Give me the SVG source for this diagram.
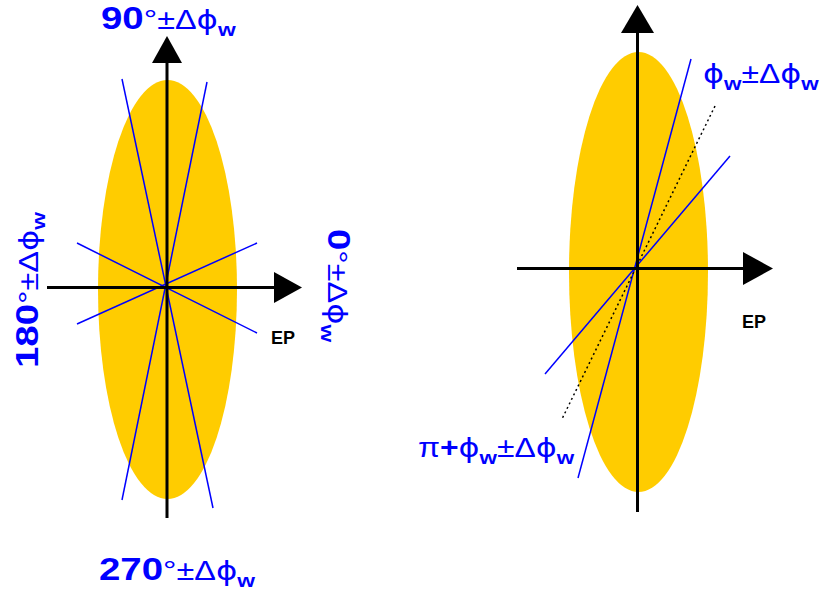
<svg xmlns="http://www.w3.org/2000/svg" width="823" height="595" viewBox="0 0 823 595">
<style>
.el{fill:#FFCC00}
.ax{stroke:#000;stroke-width:3;fill:none}
.ah{fill:#000}
.bl{stroke:#0000FF;stroke-width:1.5;fill:none}
.dt{stroke:#000;stroke-width:1.5;stroke-dasharray:2,3;fill:none}
.lbl{font-family:"Liberation Sans",Arial,sans-serif;fill:#0000FF}
.big{font-size:32px;font-weight:bold}
.deg{font-size:28px;font-weight:normal}
.sym{font-size:27px;font-weight:normal}
.phi{font-size:27px;font-weight:normal;font-family:"DejaVu Sans",sans-serif}
.sub{font-size:19px;font-weight:bold}
.ep{font-family:"Liberation Sans",Arial,sans-serif;font-size:18px;font-weight:bold;fill:#000}
</style>
<g id="left-ellipse"><ellipse class="el" cx="167.5" cy="289.5" rx="69.5" ry="209.5"/></g>
<g id="right-ellipse"><ellipse class="el" cx="638.5" cy="272" rx="69.5" ry="220"/></g>
<g id="connectors">
<line class="bl" x1="122" y1="79" x2="213" y2="508"/>
<line class="bl" x1="207" y1="82" x2="122" y2="500"/>
<line class="bl" x1="77" y1="243" x2="257" y2="333"/>
<line class="bl" x1="77" y1="324" x2="257" y2="243"/>
<line class="ax" x1="167" y1="60" x2="167" y2="518"/>
<polygon class="ah" points="152,63 182,63 167,36"/>
<line class="ax" x1="47" y1="287.5" x2="276" y2="287.5"/>
<polygon class="ah" points="274,272 274,303 302,287.5"/>
<line class="bl" x1="691" y1="59" x2="578" y2="478"/>
<line class="bl" x1="730" y1="156" x2="545" y2="374"/>
<line class="dt" x1="715" y1="106" x2="562" y2="419"/>
<line class="ax" x1="637.5" y1="30" x2="637.5" y2="512"/>
<polygon class="ah" points="621,33 654,33 637.5,5"/>
<line class="ax" x1="517" y1="268.5" x2="745" y2="268.5"/>
<polygon class="ah" points="743,252 743,285 773,268.5"/>
</g>
<g id="label-90"><g transform="translate(101,29) scale(1.2,1)"><text class="lbl"><tspan class="big">90</tspan><tspan class="deg">°</tspan><tspan class="sym">±Δ</tspan><tspan class="phi">ϕ</tspan><tspan class="sub" dy="7">w</tspan></text></g></g>
<g id="label-270"><g transform="translate(99,580) scale(1.2,1)"><text class="lbl"><tspan class="big">270</tspan><tspan class="deg">°</tspan><tspan class="sym">±Δ</tspan><tspan class="phi">ϕ</tspan><tspan class="sub" dy="7">w</tspan></text></g></g>
<g id="label-180"><g transform="translate(38,368) rotate(-90) scale(1.2,1)"><text class="lbl"><tspan class="big">180</tspan><tspan class="deg">°</tspan><tspan class="sym">±Δ</tspan><tspan class="phi">ϕ</tspan><tspan class="sub" dy="7">w</tspan></text></g></g>
<g id="label-0"><g transform="translate(328,229) rotate(90) scale(1.2,1)"><text class="lbl"><tspan class="big">0</tspan><tspan class="deg">°</tspan><tspan class="sym">±Δ</tspan><tspan class="phi">ϕ</tspan><tspan class="sub" dy="7">w</tspan></text></g></g>
<g id="label-phiw"><g transform="translate(703,83) scale(1.18,1)"><text class="lbl"><tspan class="phi">ϕ</tspan><tspan class="sub" dy="7">w</tspan><tspan class="sym" dy="-7">±Δ</tspan><tspan class="phi">ϕ</tspan><tspan class="sub" dy="7">w</tspan></text></g></g>
<g id="label-piphiw"><g transform="translate(418,457) scale(1.18,1)"><text class="lbl"><tspan class="sym">π</tspan><tspan class="sym" style="font-weight:bold">+</tspan><tspan class="phi">ϕ</tspan><tspan class="sub" dy="7">w</tspan><tspan class="sym" dy="-7">±Δ</tspan><tspan class="phi">ϕ</tspan><tspan class="sub" dy="7">w</tspan></text></g></g>
<g id="label-ep-left"><text class="ep" x="271" y="344">EP</text></g>
<g id="label-ep-right"><text class="ep" x="742" y="328">EP</text></g>
</svg>
